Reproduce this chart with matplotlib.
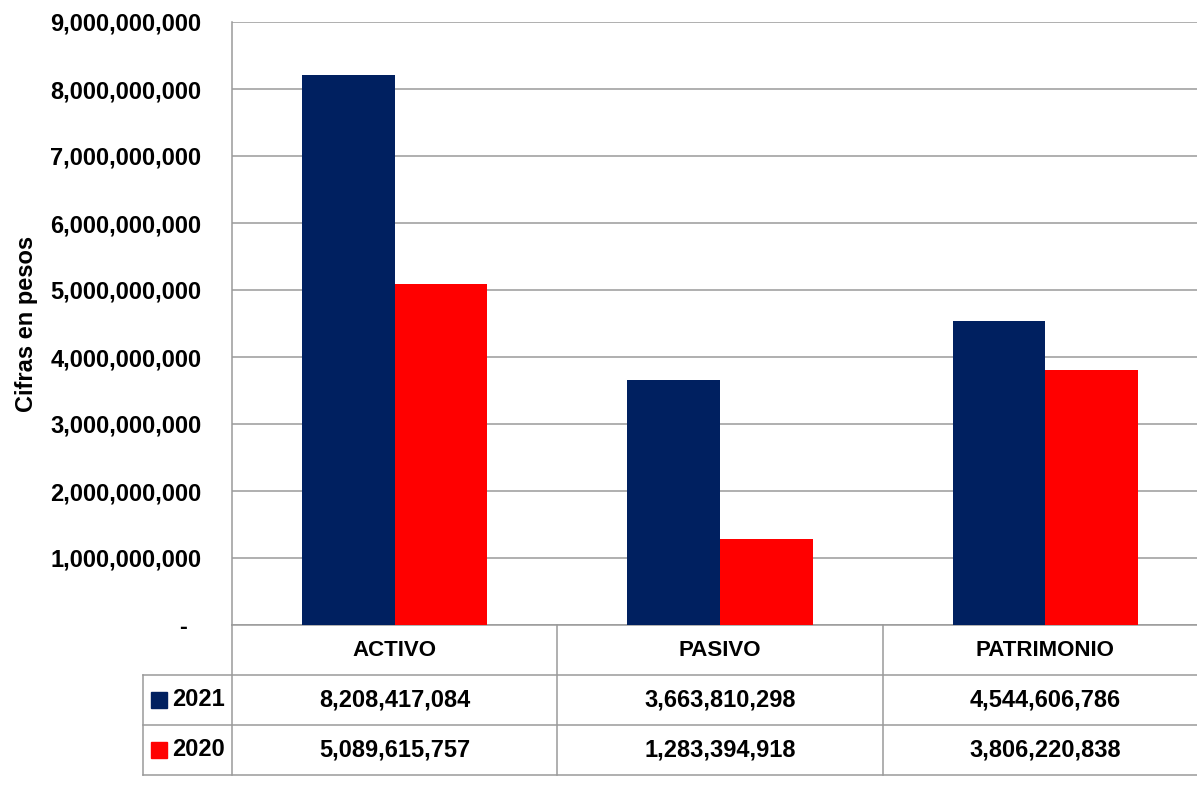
import numpy as np
import matplotlib
matplotlib.use("Agg")
import matplotlib.pyplot as plt
from matplotlib.transforms import blended_transform_factory
from matplotlib.ticker import FuncFormatter

categories = ["ACTIVO", "PASIVO", "PATRIMONIO"]
series_names = ["2021", "2020"]
values_2021 = [8208417084, 3663810298, 4544606786]
values_2020 = [5089615757, 1283394918, 3806220838]
colors = ["#002060", "#FF0000"]

plt.rcParams["font.family"] = ["Liberation Sans", "DejaVu Sans"]
plt.rcParams["font.weight"] = "bold"

W, H = 1197, 788
fig = plt.figure(figsize=(W / 100, H / 100), dpi=100)

# axes in pixels: left 232, right 1208 (cropped by the figure edge), top 22, bottom 625
left, right, top, bottom = 232, 1208, 22, 625
ax = fig.add_axes([left / W, 1 - bottom / H, (right - left) / W, (bottom - top) / H])

x = np.arange(len(categories))
bw = 0.285
ax.bar(x - bw / 2, values_2021, bw, color=colors[0], zorder=3)
ax.bar(x + bw / 2, values_2020, bw, color=colors[1], zorder=3)

ax.set_xlim(-0.5, len(categories) - 0.5)
ax.set_ylim(0, 9e9)
ax.set_yticks(np.arange(0, 9.1e9, 1e9))
ax.yaxis.set_major_formatter(FuncFormatter(lambda v, p: f"{v:,.0f}" if v else "-  "))
ax.tick_params(axis="y", length=0, pad=22, labelsize=17)
ax.set_xticks([])
lc = "#9a9a9a"
lw = 1.1
ax.grid(axis="y", color=lc, linewidth=lw, zorder=0)
for s in ["top", "right", "bottom"]:
    ax.spines[s].set_visible(False)
ax.spines["left"].set_color(lc)
ax.spines["left"].set_linewidth(lw)

ax.set_ylabel("Cifras en pesos", fontsize=17, fontweight="bold")
ax.yaxis.set_label_coords((38 - left) / (right - left), 0.5)

# data table under the plot
tr = blended_transform_factory(ax.transData, ax.transAxes)
rh = 50 / (bottom - top)
unit = (right - left) / len(categories)
leg_left = -0.5 - (left - 143) / unit

ax.plot([-0.5, 2.5], [0, 0], color=lc, lw=lw, transform=tr, clip_on=False)
for i in range(1, 4):
    ax.plot([leg_left, 2.5], [-i * rh, -i * rh], color=lc, lw=lw, transform=tr, clip_on=False)
ax.plot([-0.5, -0.5], [0, -3 * rh], color=lc, lw=lw, transform=tr, clip_on=False)
for b in [0.5, 1.5]:
    ax.plot([b, b], [0, -3 * rh], color=lc, lw=lw, transform=tr, clip_on=False)
ax.plot([leg_left, leg_left], [-rh, -3 * rh], color=lc, lw=lw, transform=tr, clip_on=False)

for i, c in enumerate(categories):
    ax.text(i, -0.5 * rh, c, ha="center", va="center", fontsize=16, fontweight="bold",
            transform=tr)

rows = [values_2021, values_2020]
for r, (name, vals, col) in enumerate(zip(series_names, rows, colors)):
    yc = -(r + 1.5) * rh
    for i, v in enumerate(vals):
        ax.text(i, yc, f"{v:,}", ha="center", va="center", fontsize=17, fontweight="bold",
                transform=tr)
    ax.plot([leg_left + 16 / unit], [yc], marker="s", markersize=12, color=col,
            transform=tr, clip_on=False)
    ax.text(leg_left + 29 / unit, yc, name, ha="left", va="center", fontsize=17,
            fontweight="bold", transform=tr)

fig.savefig("out.png", dpi=100)
